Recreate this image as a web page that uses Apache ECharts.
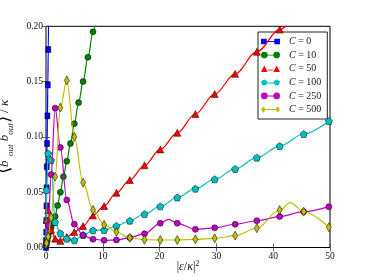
<!DOCTYPE html>
<html><head><meta charset="utf-8">
<script src="https://cdn.jsdelivr.net/npm/echarts@6/dist/echarts.min.js"></script>
<style>html,body{margin:0;padding:0;background:#fff}#c{width:368px;height:276px}</style>
</head><body><div id="c"></div>
<script>
// ---- data ----
const xTicks = [0, 10, 20, 30, 40, 50];
const yTicks = [0.00, 0.05, 0.10, 0.15, 0.20];
const cNames = ['0', '10', '50', '100', '250', '500'];

// C = 0 (blue squares)
const c0X = [0, 0.02, 0.04, 0.06, 0.08, 0.10, 0.13, 0.19, 0.25, 0.32, 0.40, 0.46];
const c0Y = [0, 0.0064, 0.0139, 0.0243, 0.0376, 0.054, 0.073, 0.094, 0.119, 0.147, 0.179, 0.2125];

// C = 10 (green circles)
const c10X = [0.021, 0.094, 0.22, 0.39, 0.62, 0.90, 1.23, 1.61, 2.05, 2.53, 3.07, 3.66, 4.30, 4.99, 5.74, 6.53, 7.38, 8.28, 9.26];
const c10Y = [0.002, 0.004, 0.006, 0.0098, 0.014, 0.018, 0.022, 0.028, 0.038, 0.050, 0.064, 0.078, 0.094, 0.112, 0.131, 0.150, 0.172, 0.195, 0.220];

// shared marker positions for C = 50 ... 500
const markX = [0.094, 0.39, 0.90, 1.61, 2.53, 3.66, 4.99, 6.53, 8.28, 10.23, 12.40, 14.76, 17.34, 20.12, 23.11, 26.30, 29.70, 33.30, 37.12, 41.14, 45.37, 49.80];
const c50Y  = [0.025, 0.034, 0.016, 0.008, 0.006, 0.0095, 0.014, 0.0194, 0.029, 0.0375, 0.0495, 0.061, 0.0743, 0.0887, 0.1037, 0.1207, 0.1387, 0.157, 0.177, 0.197, 0.218, 0.240];
const c100Y = [0.052, 0.085, 0.079, 0.023, 0.0128, 0.008, 0.0065, 0.0113, 0.0155, 0.0158, 0.0195, 0.0242, 0.0303, 0.0372, 0.0452, 0.0532, 0.0617, 0.071, 0.0812, 0.0917, 0.1026, 0.1143];
const c250Y = [0.004, 0.020, 0.066, 0.126, 0.0905, 0.043, 0.021, 0.011, 0.0075, 0.0065, 0.0068, 0.0089, 0.0125, 0.0219, 0.0219, 0.0164, 0.0178, 0.021, 0.0242, 0.028, 0.0324, 0.0369];
const c500Y = [0.004, 0.0098, 0.027, 0.064, 0.1265, 0.151, 0.100, 0.0586, 0.034, 0.0205, 0.014, 0.0088, 0.007, 0.0068, 0.0068, 0.0074, 0.0083, 0.0107, 0.0174, 0.0339, 0.0324, 0.0183];

// curve points without a marker (peaks)
const c50Curve  = [[0, 0], [0.2, 0.040]];
const c100Curve = [[0, 0]];
const c250Curve = [[0, 0], [21.6, 0.0255]];
const c500Curve = [[0, 0], [43.0, 0.0405]];

// ---- build ----
const colors = ['#0000ff', '#008000', '#ff0000', '#00bfbf', '#bf00bf', '#bfbf00'];
const pent = 'path://M0,-1 L0.951,-0.309 L0.588,0.809 L-0.588,0.809 L-0.951,-0.309 Z';
const symbols = ['rect', 'circle', 'triangle', pent, 'circle', 'diamond'];
const sizes = [[5, 6], 6, 7, 7, 6, [5, 9]];
const legendIcons = [
  'path://M0,0.5 H6 V6.5 H0 Z M14,0.5 H20 V6.5 H14 Z M6,3 H14 V4 H6 Z',
  'path://M0,3.5 A3.5,3.5 0 1 1 7,3.5 A3.5,3.5 0 1 1 0,3.5 Z M13,3.5 A3.5,3.5 0 1 1 20,3.5 A3.5,3.5 0 1 1 13,3.5 Z M7,3 H13 V4 H7 Z',
  'path://M0,7 L3.5,0 L7,7 Z M13,7 L16.5,0 L20,7 Z M7,4.5 H13 V5.5 H7 Z',
  'path://M3.5,0 L6.83,2.42 L5.56,6.33 L1.44,6.33 L0.17,2.42 Z M16.5,0 L19.83,2.42 L18.56,6.33 L14.44,6.33 L13.17,2.42 Z M6,3.3 H14 V4.3 H6 Z',
  'path://M0,3.5 A3.5,3.5 0 1 1 7,3.5 A3.5,3.5 0 1 1 0,3.5 Z M13,3.5 A3.5,3.5 0 1 1 20,3.5 A3.5,3.5 0 1 1 13,3.5 Z M7,3 H13 V4 H7 Z',
  'path://M2.5,0 L5,3.5 L2.5,7 L0,3.5 Z M17.5,0 L20,3.5 L17.5,7 L15,3.5 Z M5,3 H15 V4 H5 Z'
];

function build(xs, ys, curve) {
  const pts = xs.map((x, i) => ({ value: [x, ys[i]] }));
  (curve || []).forEach(p => pts.push({ value: [p[0], p[1]], symbol: 'none' }));
  pts.sort((a, b) => a.value[0] - b.value[0]);
  return pts;
}
const datasets = [
  build(c0X, c0Y),
  build(c10X, c10Y),
  build(markX, c50Y, c50Curve),
  build(markX, c100Y, c100Curve),
  build(markX, c250Y, c250Curve),
  build(markX, c500Y, c500Curve)
];

const serif = 'Liberation Serif';
const series = cNames.map((n, i) => ({
  name: n,
  type: 'line',
  xAxisIndex: 0, yAxisIndex: 0,
  data: datasets[i],
  smooth: 0.35,
  smoothMonotone: 'x',
  symbol: symbols[i],
  symbolSize: sizes[i],
  showAllSymbol: true,
  clip: true,
  lineStyle: { color: colors[i], width: 1.2 },
  itemStyle: { color: colors[i], borderColor: '#000', borderWidth: 0.5 },
  emphasis: { disabled: true },
  z: 2 + i
}));

const tickStyle = { show: true, inside: true, length: 4, lineStyle: { color: '#444', width: 0.8 } };
const chart = echarts.init(document.getElementById('c'), null, { renderer: 'canvas' });
chart.setOption({
  animation: false,
  backgroundColor: '#fff',
  grid: { left: 46, right: 38, top: 26.3, bottom: 28.5, containLabel: false, outerBoundsMode: 'none',
          show: true, borderColor: '#000', borderWidth: 1, backgroundColor: 'transparent' },
  graphic: [{
    type: 'text', x: 188, y: 267, z: 10,
    style: {
      text: '{u||}{i|ε}{u|/}{i|κ}{u||}{s|2}',
      align: 'center', verticalAlign: 'middle',
      fontFamily: serif, fontSize: 12, fill: '#111',
      rich: { u: { fontFamily: serif, fontSize: 12, fill: '#111', lineHeight: 14 },
              i: { fontFamily: serif, fontStyle: 'italic', fontSize: 12, fill: '#111', lineHeight: 14 },
              s: { fontFamily: serif, fontSize: 8, fill: '#111', lineHeight: 8, verticalAlign: 'top' } }
    }
  }],
  legend: {
    orient: 'vertical',
    left: 258, top: 32,
    padding: [4, 6, 4, 3],
    backgroundColor: '#fff',
    borderColor: '#222', borderWidth: 1,
    itemWidth: 19, itemHeight: 7, itemGap: 2.6,
    data: cNames.map((n, i) => ({ name: n, icon: legendIcons[i] })),
    itemStyle: { borderWidth: 0 },
    formatter: n => '{i|C} = ' + n,
    textStyle: { fontFamily: serif, fontSize: 10, color: '#222', lineHeight: 11, padding: [0, 0, 0, 4],
      rich: { i: { fontFamily: serif, fontStyle: 'italic', fontSize: 10, color: '#222' } } },
    selectedMode: false
  },
  xAxis: [{
    type: 'value', min: 0, max: 50, interval: 10, position: 'bottom',
    axisLine: { show: false }, axisTick: tickStyle, splitLine: { show: false },
    axisLabel: { fontFamily: serif, fontSize: 9.5, color: '#111', margin: 4, formatter: v => xTicks.includes(v) ? String(v) : '' }
  }, {
    type: 'value', min: 0, max: 50, interval: 10, position: 'top',
    axisLine: { show: false }, axisTick: tickStyle, splitLine: { show: false }, axisLabel: { show: false }
  }],
  yAxis: [{
    type: 'value', min: 0, max: 0.2, interval: 0.05, position: 'left',
    axisLine: { show: false }, axisTick: tickStyle, splitLine: { show: false },
    axisLabel: { fontFamily: serif, fontSize: 9.5, color: '#111', margin: 3, formatter: v => v.toFixed(2) },
    name: '{br|⟨}{b|b}{sp|†}{sb|out}{b| b}{sb|out}{br|⟩}{u| / }{b|κ}', nameLocation: 'middle', nameGap: 29, nameRotate: 90,
    nameTextStyle: { fontFamily: serif, fontSize: 13, color: '#111',
      rich: { br: { fontFamily: serif, fontSize: 19, color: '#111', lineHeight: 22 },
              b: { fontFamily: serif, fontStyle: 'italic', fontSize: 13, color: '#111', lineHeight: 22 },
              u: { fontFamily: serif, fontSize: 13, color: '#111', lineHeight: 22 },
              sp: { fontFamily: serif, fontSize: 9, color: '#111', lineHeight: 10, verticalAlign: 'top' },
              sb: { fontFamily: serif, fontStyle: 'italic', fontSize: 9, color: '#111', lineHeight: 9, verticalAlign: 'bottom' } } }
  }, {
    type: 'value', min: 0, max: 0.2, interval: 0.05, position: 'right',
    axisLine: { show: false }, axisTick: tickStyle, splitLine: { show: false }, axisLabel: { show: false }
  }],
  series: series
});
</script>
</body></html>
